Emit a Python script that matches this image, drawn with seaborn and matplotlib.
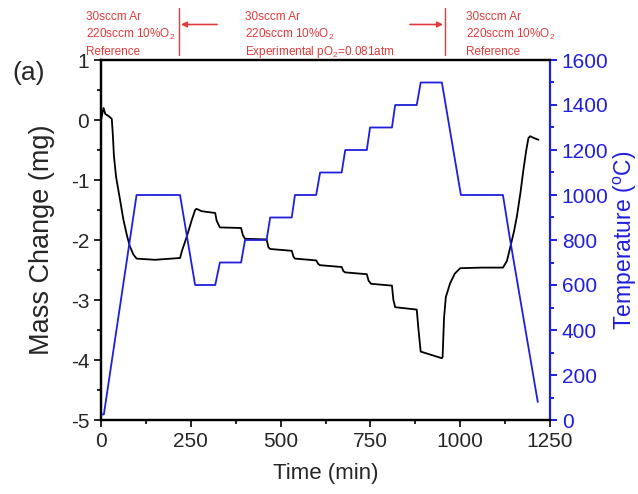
import numpy as np
import pandas as pd
import matplotlib
matplotlib.use('Agg')
import matplotlib.pyplot as plt
from matplotlib.lines import Line2D
from matplotlib.ticker import MultipleLocator
import seaborn as sns

# mass change (mg) vs time (min)
time_mass = [0, 7, 12, 20, 30, 33, 36, 42, 53, 62, 72, 80, 90, 99, 150, 220,
             226, 239, 252, 262, 266, 280, 318, 322, 331, 390, 395, 401, 461,
             466, 471, 531, 536, 540, 599, 605, 610, 670, 675, 680, 740, 745,
             752, 810, 814, 819, 879, 884, 890, 949, 951, 955, 960, 972, 985,
             1000, 1060, 1119, 1130, 1139, 1150, 1158, 1168, 1176, 1184, 1190,
             1195, 1205, 1218]
mass = [0.0, 0.2, 0.1, 0.07, 0.02, -0.25, -0.6, -0.95, -1.33, -1.65, -1.92,
        -2.1, -2.24, -2.31, -2.33, -2.30, -2.17, -1.94, -1.68, -1.5, -1.48,
        -1.52, -1.55, -1.68, -1.79, -1.80, -1.92, -1.98, -1.99, -2.12, -2.15,
        -2.18, -2.28, -2.31, -2.34, -2.40, -2.42, -2.45, -2.52, -2.54, -2.57,
        -2.68, -2.73, -2.76, -3.0, -3.12, -3.16, -3.5, -3.86, -3.97, -3.95,
        -3.3, -2.95, -2.72, -2.56, -2.47, -2.46, -2.46, -2.35, -2.13, -1.85,
        -1.6, -1.2, -0.83, -0.5, -0.3, -0.27, -0.3, -0.33]

# temperature program (C) vs time (min)
time_temp = [0, 8, 99, 220, 262, 318, 331, 390, 401, 461, 471, 531, 540, 599,
             610, 670, 680, 740, 749, 810, 819, 879, 890, 949, 1002, 1119,
             1139, 1216]
temp = [25, 25, 1000, 1000, 600, 600, 700, 700, 800, 800, 900, 900, 1000,
        1000, 1100, 1100, 1200, 1200, 1300, 1300, 1400, 1400, 1500, 1500,
        1000, 1000, 800, 80]

gas_top = '30sccm Ar'
gas_mid = '220sccm 10%O$\\mathregular{_2}$'
notes = ['Reference', 'Experimental pO$\\mathregular{_2}$=0.081atm', 'Reference']

df_m = pd.DataFrame({'t': time_mass, 'm': mass})
df_t = pd.DataFrame({'t': time_temp, 'T': temp})

sns.set_style('ticks')
plt.rcParams['font.family'] = ['Liberation Sans', 'DejaVu Sans']
plt.rcParams['mathtext.default'] = 'regular'
plt.rcParams['axes.unicode_minus'] = False

W, H = 638, 494
blue = '#1f1fdc'
red = '#e23a3a'

fig = plt.figure(figsize=(W / 100, H / 100), dpi=100)
ax = fig.add_axes([101 / W, 1 - 420 / H, 449 / W, 360 / H])
ax2 = ax.twinx()

sns.lineplot(data=df_m, x='t', y='m', ax=ax, color='black', linewidth=1.3,
             estimator=None, sort=False)
sns.lineplot(data=df_t, x='t', y='T', ax=ax2, color=blue, linewidth=1.3,
             estimator=None, sort=False)

ax.set_xlim(0, 1250)
ax.set_ylim(-5, 1)
ax2.set_ylim(0, 1600)
ax.xaxis.set_major_locator(MultipleLocator(250))
ax.xaxis.set_minor_locator(MultipleLocator(125))
ax.yaxis.set_major_locator(MultipleLocator(1))
ax.yaxis.set_minor_locator(MultipleLocator(0.5))
ax2.yaxis.set_major_locator(MultipleLocator(200))
ax2.yaxis.set_minor_locator(MultipleLocator(100))

for a in (ax, ax2):
    for s in a.spines.values():
        s.set_linewidth(1.6)
        s.set_color('black')
ax2.spines['right'].set_color(blue)
ax.spines['right'].set_visible(False)

ax.tick_params(which='major', length=5, width=1.4, labelsize=15, direction='out')
ax.tick_params(which='minor', length=3, width=1.4, direction='out')
ax2.tick_params(which='major', length=5, width=1.4, labelsize=15, colors=blue)
ax2.tick_params(which='minor', length=3, width=1.4, colors=blue)

ax.set_xlabel('Time (min)', fontsize=16, labelpad=9)
ax.set_ylabel('Mass Change (mg)', fontsize=19.5, labelpad=11)
ax2.set_ylabel('Temperature ($\\mathregular{^o}$C)', fontsize=16.5, color=blue,
               labelpad=2)

fig.text(12 / W, 1 - 80 / H, '(a)', fontsize=19, va='baseline')

for x0, note in zip([86, 245, 466], notes):
    for yb, s in zip([19.5, 37.5, 55], [gas_top, gas_mid, note]):
        fig.text(x0 / W, 1 - yb / H, s, color=red, fontsize=8.5, va='baseline')

for xl in [179, 445]:
    fig.add_artist(Line2D([xl / W, xl / W], [1 - 8 / H, 1 - 55 / H],
                          transform=fig.transFigure, color=red, lw=1.0))
ax.annotate('', xy=(181 / W, 1 - 24.5 / H), xytext=(217 / W, 1 - 24.5 / H),
            xycoords='figure fraction',
            arrowprops=dict(arrowstyle='-|>', color=red, lw=1.2,
                            mutation_scale=8, shrinkA=0, shrinkB=0))
ax.annotate('', xy=(443 / W, 1 - 24.5 / H), xytext=(410 / W, 1 - 24.5 / H),
            xycoords='figure fraction',
            arrowprops=dict(arrowstyle='-|>', color=red, lw=1.2,
                            mutation_scale=8, shrinkA=0, shrinkB=0))

fig.savefig('out.png', dpi=100)
